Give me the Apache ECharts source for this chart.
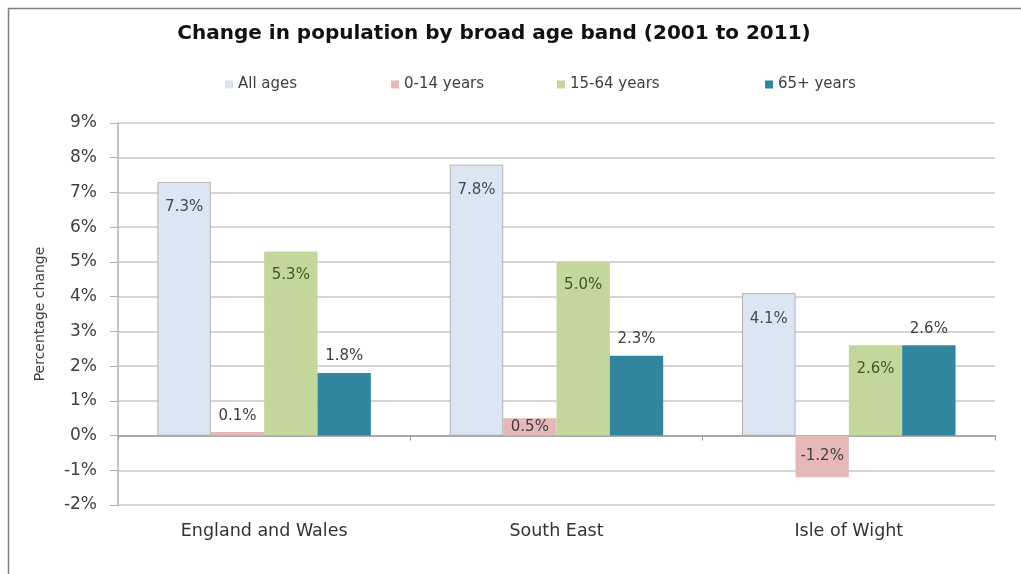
<!DOCTYPE html>
<html>
<head>
<meta charset="utf-8">
<script src="https://cdn.jsdelivr.net/npm/echarts@6/dist/echarts.min.js"></script>
<style>
  html, body { margin: 0; padding: 0; background: #fff; }
  #chart { width: 1021px; height: 574px; }
</style>
</head>
<body>
<div id="chart"></div>
<script>
// Areas compared
const regions = ['England and Wales', 'South East', 'Isle of Wight'];

// Percentage change 2001 to 2011 by age band
const allAges = [7.3, 7.8, 4.1];
const age0to14 = [0.1, 0.5, -1.2];
const age15to64 = [5.3, 5.0, 2.6];
const age65plus = [1.8, 2.3, 2.6];

const seriesNames = ['All ages', '0-14 years', '15-64 years', '65+ years'];
const yTicks = [-2, -1, 0, 1, 2, 3, 4, 5, 6, 7, 8, 9];

const FONT = '"DejaVu Sans", "Liberation Sans", Arial, sans-serif';
const pct = p => p.value.toFixed(1) + '%';

const chart = echarts.init(document.getElementById('chart'), null, { renderer: 'canvas' });

// Very short bars carry their label above; the others carry it inside.
function childLabel(v) {
  if (v > 0 && v < 0.3) return { position: 'top', distance: 8 };
  return { position: 'inside' };
}

const legendLefts = [225, 391, 557, 765];

chart.setOption({
  backgroundColor: '#ffffff',
  animation: false,
  textStyle: { fontFamily: FONT },
  title: {
    text: 'Change in population by broad age band (2001 to 2011)',
    left: 489,
    textAlign: 'center',
    top: 19,
    textStyle: { fontFamily: FONT, fontSize: 20, fontWeight: 'bold', color: '#111' }
  },
  graphic: [{
    type: 'rect',
    shape: { x: 8.5, y: 8.5, width: 1040, height: 600 },
    style: { fill: 'none', stroke: '#7f7f7f', lineWidth: 1.5 },
    silent: true
  }],
  legend: seriesNames.map((n, i) => ({
    data: [n],
    left: legendLefts[i],
    top: 77,
    padding: 0,
    icon: 'rect',
    itemWidth: 8,
    itemHeight: 8,
    itemStyle: { borderWidth: 0 },
    textStyle: { fontFamily: FONT, fontSize: 15, color: '#404040' }
  })),
  grid: { left: 118, right: 26, top: 123, bottom: 69, containLabel: false },
  xAxis: {
    type: 'category',
    data: regions,
    axisLine: { onZero: true, lineStyle: { color: '#9a9a9a', width: 1.5 } },
    axisTick: { show: true, length: 5, lineStyle: { color: '#9a9a9a' } },
    axisLabel: { fontFamily: FONT, fontSize: 17.5, color: '#333', margin: 17 }
  },
  yAxis: {
    type: 'value',
    min: yTicks[0],
    max: yTicks[yTicks.length - 1],
    interval: 1,
    name: 'Percentage change',
    nameLocation: 'middle',
    nameGap: 71,
    nameTextStyle: { fontFamily: FONT, fontSize: 14, color: '#404040' },
    axisLine: { show: true, lineStyle: { color: '#b0b0b0', width: 1.5 } },
    axisTick: { show: true, length: 8, lineStyle: { color: '#b0b0b0' } },
    axisLabel: {
      fontFamily: FONT, fontSize: 17, color: '#404040', margin: 21,
      formatter: v => v + '%'
    },
    splitLine: { lineStyle: { color: '#c8c8c8', width: 1.5 } }
  },
  series: [
    {
      name: seriesNames[0],
      type: 'bar',
      data: allAges,
      barGap: '0%',
      barCategoryGap: '27%',
      itemStyle: { color: '#dce6f2', borderColor: '#a6a6a6', borderWidth: 0.8 },
      label: {
        show: true, position: 'insideTop', distance: 18,
        fontFamily: FONT, fontSize: 15, color: '#3a4a60', formatter: pct
      }
    },
    {
      name: seriesNames[1],
      type: 'bar',
      data: age0to14.map(v => ({ value: v, label: childLabel(v) })),
      barGap: '0%',
      barCategoryGap: '27%',
      itemStyle: { color: '#e6b9b8' },
      label: {
        show: true,
        fontFamily: FONT, fontSize: 15, color: '#404040', formatter: pct
      }
    },
    {
      name: seriesNames[2],
      type: 'bar',
      data: age15to64,
      barGap: '0%',
      barCategoryGap: '27%',
      itemStyle: { color: '#c3d69b' },
      label: {
        show: true, position: 'insideTop', distance: 16,
        fontFamily: FONT, fontSize: 15, color: '#3d5a1e', formatter: pct
      }
    },
    {
      name: seriesNames[3],
      type: 'bar',
      data: age65plus,
      barGap: '0%',
      barCategoryGap: '27%',
      itemStyle: { color: '#31859c' },
      label: {
        show: true, position: 'top', distance: 9,
        fontFamily: FONT, fontSize: 15, color: '#404040', formatter: pct
      }
    }
  ]
});
</script>
</body>
</html>
